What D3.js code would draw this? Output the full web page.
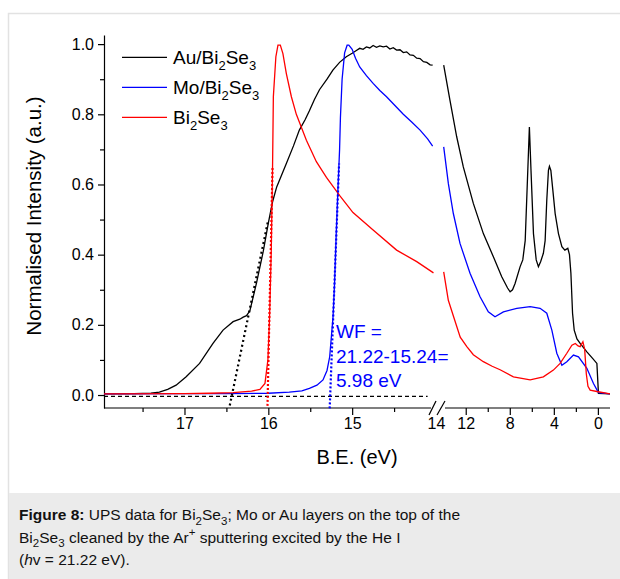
<!DOCTYPE html>
<html>
<head>
<meta charset="utf-8">
<script src="https://cdn.jsdelivr.net/npm/d3@7"></script>
<style>
  html, body { margin: 0; padding: 0; background: #fff; }
  svg { display: block; font-family: "Liberation Sans", Arial, Helvetica, sans-serif; }
</style>
</head>
<body>
<script>
// ---------------- data (binding energy eV, normalised intensity) ----------------
const seriesNames = ["Au/Bi2Se3", "Mo/Bi2Se3", "Bi2Se3"];

const auLeft = [[17.96,0.003],[17.6,0.004],[17.4,0.005],[17.3,0.008],[17.2,0.016],[17.1,0.028],[16.98,0.052],[16.82,0.09],[16.66,0.147],
  [16.54,0.185],[16.42,0.209],[16.34,0.216],[16.3,0.222],[16.26,0.226],[16.22,0.24],[16.14,0.32],[16.06,0.41],
  [16.0,0.49],[15.95,0.55],[15.9,0.593],[15.785,0.66],[15.7,0.71],[15.63,0.755],[15.56,0.785],[15.51,0.81],
  [15.45,0.842],[15.39,0.87],[15.3,0.9],[15.23,0.926],[15.15,0.948],[15.07,0.964],[15.0,0.974],[14.95,0.982],
  [14.91,0.988],[14.87,0.985],[14.83,0.992],[14.79,0.989],[14.75,0.996],[14.71,0.991],[14.67,0.995],
  [14.63,0.992],[14.59,0.994],[14.55,0.986],[14.51,0.99],[14.47,0.983],[14.43,0.984],[14.39,0.976],
  [14.35,0.978],[14.31,0.969],[14.27,0.968],[14.23,0.96],[14.19,0.959],[14.15,0.95],[14.11,0.948],
  [14.07,0.941],[14.04,0.94]];
const auRight = [[14.0,0.94],[13.43,0.84],[12.82,0.736],[12.22,0.65],[11.31,0.546],[10.4,0.46],[9.49,0.394],
  [8.73,0.337],[8.2,0.305],[7.97,0.294],[7.75,0.3],[7.52,0.318],[7.06,0.366],[6.82,0.385],[6.6,0.44],
  [6.4,0.61],[6.22,0.764],[6.06,0.63],[5.85,0.46],[5.6,0.385],[5.4,0.366],[5.2,0.38],[4.95,0.404],[4.79,0.44],
  [4.64,0.556],[4.49,0.64],[4.4,0.652],[4.27,0.64],[4.09,0.584],[3.88,0.517],[3.58,0.46],[3.27,0.423],
  [3.0,0.413],[2.73,0.418],[2.58,0.40],[2.45,0.347],[2.3,0.233],[2.15,0.185],[1.9,0.16],[1.61,0.147],
  [1.0,0.123],[0.5,0.105],[0.09,0.09],[-0.05,0.005],[-1.1,0.003]];

const moLeft = [[17.96,0.003],[17.0,0.004],[16.5,0.004],[16.0,0.005],[15.75,0.008],[15.6,0.012],[15.51,0.019],
  [15.42,0.028],[15.348,0.043],[15.3,0.07],[15.268,0.109],[15.228,0.223],[15.21,0.318],[15.19,0.46],
  [15.17,0.584],[15.15,0.70],[15.14,0.79],[15.12,0.9],[15.09,0.975],[15.06,0.997],[15.04,0.997],[15.0,0.985],
  [14.96,0.96],[14.91,0.935],[14.83,0.91],[14.75,0.888],[14.67,0.868],[14.59,0.85],[14.49,0.825],
  [14.39,0.80],[14.29,0.778],[14.19,0.755],[14.1,0.73],[14.04,0.709]];
const moRight = [[14.0,0.707],[13.58,0.603],[13.13,0.518],[12.52,0.432],[11.61,0.347],[10.7,0.28],[9.95,0.237],
  [9.34,0.223],[8.58,0.237],[7.36,0.247],[6.15,0.252],[5.25,0.247],[4.64,0.233],[4.18,0.185],[3.73,0.119],
  [3.27,0.085],[2.82,0.095],[2.22,0.114],[1.76,0.109],[1.0,0.076],[0.4,0.033],[-0.05,0.007],[-1.1,0.003]];

const biLeft = [[17.96,0.003],[17.0,0.004],[16.7,0.005],[16.42,0.007],[16.2,0.011],[16.1,0.016],[16.04,0.033],
  [16.005,0.1],[15.985,0.223],[15.965,0.41],[15.95,0.64],[15.94,0.85],[15.91,0.964],[15.885,0.997],
  [15.857,0.997],[15.826,0.973],[15.785,0.916],[15.725,0.85],[15.666,0.80],[15.546,0.726],[15.427,0.665],
  [15.307,0.62],[15.148,0.568],[14.99,0.52],[14.75,0.47],[14.47,0.413],[14.23,0.38],[14.03,0.348]];
const biRight = [[14.0,0.351],[13.58,0.27],[13.1,0.223],[12.5,0.165],[11.9,0.138],[11.31,0.115],[10.4,0.095],
  [9.6,0.082],[8.88,0.072],[7.67,0.052],[6.15,0.043],[4.95,0.052],[4.04,0.071],[3.43,0.09],[2.82,0.119],
  [2.36,0.142],[2.05,0.147],[1.8,0.14],[1.61,0.138],[1.36,0.152],[1.2,0.13],[1.05,0.06],[0.9,0.025],
  [0.7,0.014],[0.09,0.01],[-1.1,0.003]];

// extrapolation lines and zero reference
const auFit = [[16.46,-0.03],[16.0,0.50]];
const biFit = [[16.01,-0.031],[15.95,0.647]];
const moFit = [[15.268,-0.038],[15.156,0.66]];
const baseline = [[17.96,-0.004],[14.1,-0.004]];

const yTicks = [0, 0.2, 0.4, 0.6, 0.8, 1.0];
const yMinor = [0.1, 0.3, 0.5, 0.7, 0.9];
const xTicksLeft = [17, 16, 15, 14];
const xMinorLeft = [17.5, 16.5, 15.5, 14.5];
const xTicksRight = [12, 8, 4, 0];
const xMinorRight = [10, 6, 2];
const annotation = ["WF =", "21.22-15.24=", "5.98 eV"];

// ---------------- drawing ----------------
const W = 620, H = 579;
const svg = d3.select("body").append("svg").attr("width", W).attr("height", H);
svg.append("rect").attr("width", W).attr("height", H).attr("fill", "#fff");

// figure frame + caption box
svg.append("rect").attr("x", 8.5).attr("y", 13.5).attr("width", W).attr("height", H)
  .attr("fill", "none").attr("stroke", "#e2e2e2").attr("stroke-width", 1.5);
svg.append("rect").attr("x", 9).attr("y", 493).attr("width", W - 9).attr("height", H - 493).attr("fill", "#ebebeb");

const xL = d3.scaleLinear().domain([17.96, 14]).range([104, 436]);
const xR = d3.scaleLinear().domain([14, -1.1]).range([443.7, 610]);
const y = d3.scaleLinear().domain([-0.037, 1.026]).range([408, 35]);

const lineL = d3.line().x(d => xL(d[0])).y(d => y(d[1]));
const lineR = d3.line().x(d => xR(d[0])).y(d => y(d[1]));

const g = svg.append("g");

// axes
const yAxis = d3.axisLeft(y).tickValues(yTicks).tickFormat(d3.format(".1f")).tickSize(6).tickSizeOuter(0);
const yg = g.append("g").attr("transform", "translate(104,0)").call(yAxis);
g.append("g").attr("transform", "translate(104,0)")
  .call(d3.axisLeft(y).tickValues(yMinor).tickFormat("").tickSize(4)).select(".domain").remove();

const xgL = g.append("g").attr("transform", "translate(0,408)")
  .call(d3.axisBottom(xL).tickValues(xTicksLeft).tickFormat(d3.format("d")).tickSize(7));
xgL.select(".domain").remove();
xgL.selectAll(".tick").filter(d => d === 14).select("line").remove();
g.append("g").attr("transform", "translate(0,408)")
  .call(d3.axisBottom(xL).tickValues(xMinorLeft).tickFormat("").tickSize(4)).select(".domain").remove();
const xgR = g.append("g").attr("transform", "translate(0,408)")
  .call(d3.axisBottom(xR).tickValues(xTicksRight).tickFormat(d3.format("d")).tickSize(7));
xgR.select(".domain").remove();
g.append("g").attr("transform", "translate(0,408)")
  .call(d3.axisBottom(xR).tickValues(xMinorRight).tickFormat("").tickSize(4)).select(".domain").remove();

// axis lines with break
g.append("line").attr("x1", 104).attr("x2", 431).attr("y1", 408).attr("y2", 408).attr("stroke", "#000").attr("stroke-width", 1.2);
g.append("line").attr("x1", 445).attr("x2", 610).attr("y1", 408).attr("y2", 408).attr("stroke", "#000").attr("stroke-width", 1.2);
g.append("line").attr("x1", 429).attr("y1", 415).attr("x2", 436).attr("y2", 401).attr("stroke", "#000").attr("stroke-width", 1.2);
g.append("line").attr("x1", 437).attr("y1", 415).attr("x2", 445).attr("y2", 401).attr("stroke", "#000").attr("stroke-width", 1.2);

g.selectAll(".tick text").attr("font-size", 16).attr("fill", "#000")
  .attr("font-family", "'Liberation Sans', Arial, sans-serif");
yg.selectAll(".tick text").attr("x", -10);
g.selectAll(".domain").attr("stroke-width", 1.2);
g.selectAll(".tick line").attr("stroke-width", 1.2);

// axis titles
svg.append("text").attr("transform", "translate(41,216) rotate(-90)").attr("text-anchor", "middle")
  .attr("font-size", 20.5).text("Normalised Intensity (a.u.)");
svg.append("text").attr("x", 357).attr("y", 464).attr("text-anchor", "middle")
  .attr("font-size", 20).text("B.E. (eV)");

// reference baseline
g.append("path").datum(baseline).attr("d", lineL).attr("fill", "none").attr("stroke", "#000")
  .attr("stroke-width", 1.4).attr("stroke-dasharray", "4,3");

// curves
const curves = [
  {L: auLeft, R: auRight, c: "#000000"},
  {L: moLeft, R: moRight, c: "#0000ff"},
  {L: biLeft, R: biRight, c: "#ff0000"}
];
curves.forEach(s => {
  g.append("path").datum(s.L).attr("d", lineL).attr("fill", "none").attr("stroke", s.c).attr("stroke-width", 1.3);
  g.append("path").datum(s.R).attr("d", lineR).attr("fill", "none").attr("stroke", s.c).attr("stroke-width", 1.3);
});

// extrapolation (dotted)
[[auFit, "#000", "2,3"], [biFit, "#ff0000", "2,2"], [moFit, "#0000ff", "2,2"]].forEach(([d, c, da]) => {
  g.append("path").datum(d).attr("d", lineL).attr("fill", "none").attr("stroke", c)
    .attr("stroke-width", 2.2).attr("stroke-dasharray", da);
});

// annotation
const ann = svg.append("text").attr("fill", "#0000ff").attr("font-size", 19);
annotation.forEach((t, i) => {
  ann.append("tspan").attr("x", 336).attr("y", 338 + i * 24.7).text(t);
});

// helper for rich text with sub/superscripts
function rich(sel, parts, size, subSize) {
  const shifts = [];
  parts.forEach(p => {
    const [txt, kind] = p;
    const ts = sel.append("tspan").text(txt);
    let s = 0;
    if (kind === "sub") { ts.attr("font-size", subSize); s = size * 0.3; }
    else if (kind === "sup") { ts.attr("font-size", subSize); s = -size * 0.4; }
    else if (kind === "b") ts.attr("font-weight", "bold");
    else if (kind === "i") ts.attr("font-style", "italic");
    shifts.push(s);
  });
  const nodes = sel.selectAll("tspan").nodes();
  nodes.forEach((n, i) => {
    const prev = i > 0 ? shifts[i - 1] : 0;
    const dy = shifts[i] - prev;
    if (dy !== 0) d3.select(n).attr("dy", dy);
  });
}

// legend
const legendItems = [
  {parts: [["Au/Bi"], ["2", "sub"], ["Se"], ["3", "sub"]], c: "#000000"},
  {parts: [["Mo/Bi"], ["2", "sub"], ["Se"], ["3", "sub"]], c: "#0000ff"},
  {parts: [["Bi"], ["2", "sub"], ["Se"], ["3", "sub"]], c: "#ff0000"}
];
legendItems.forEach((it, i) => {
  const ly = 57.3 + i * 30;
  svg.append("line").attr("x1", 122).attr("x2", 167).attr("y1", ly).attr("y2", ly)
    .attr("stroke", it.c).attr("stroke-width", 1.3);
  const t = svg.append("text").attr("x", 173).attr("y", ly + 6.7).attr("font-size", 19);
  rich(t, it.parts, 19, 13);
});

// caption
const capLines = [
  [["Figure 8:", "b"], [" UPS data for Bi"], ["2", "sub"], ["Se"], ["3", "sub"], ["; Mo or Au layers on the top of the"]],
  [["Bi"], ["2", "sub"], ["Se"], ["3", "sub"], [" cleaned by the Ar"], ["+", "sup"], [" sputtering excited by the He I"]],
  [["("], ["h", "i"], ["v = 21.22 eV)."]]
];
capLines.forEach((parts, i) => {
  const t = svg.append("text").attr("x", 19).attr("y", 520 + i * 22.5).attr("font-size", 15.5).attr("fill", "#111");
  rich(t, parts, 15.5, 11.5);
});
</script>
</body>
</html>
